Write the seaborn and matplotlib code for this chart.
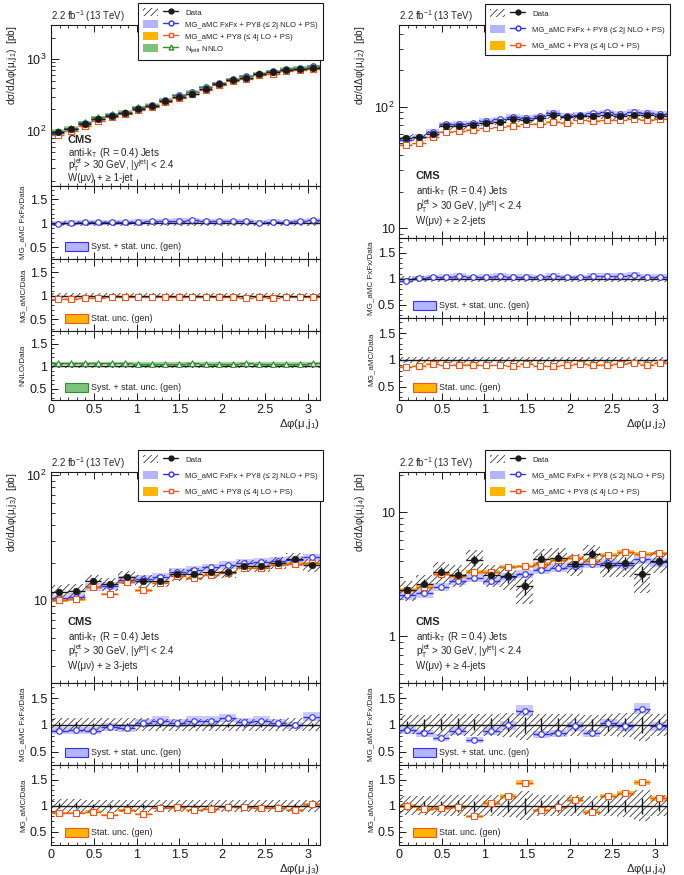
import numpy as np
import matplotlib
matplotlib.use("Agg")
import matplotlib.pyplot as plt
import matplotlib.ticker as mticker
from matplotlib.patches import Patch
from matplotlib.lines import Line2D
from matplotlib.legend_handler import HandlerTuple
import seaborn as sns

# ---------------- values ----------------
# >= 1 jet, 20 bins in dphi(mu, j1)
data_j1 = [95, 105, 125, 145, 161, 175, 204, 222, 260, 298,
           331, 389, 447, 507, 552, 614, 661, 712, 725, 750]
fxfx_ratio_j1 = [0.99, 1.01, 1.02, 1.02, 1.02, 1.02, 1.03, 1.04, 1.04, 1.05,
                 1.06, 1.04, 1.04, 1.04, 1.04, 1.01, 1.03, 1.02, 1.04, 1.06]
mg_ratio_j1 = [0.92, 0.94, 0.95, 0.96, 0.97, 0.97, 0.97, 0.98, 0.98, 0.97,
               0.98, 0.97, 0.97, 0.97, 0.95, 0.97, 0.95, 0.97, 0.97, 0.98]
nnlo_ratio_j1 = [1.06, 1.06, 1.06, 1.06, 1.06, 1.06, 1.05, 1.04, 1.05, 1.05,
                 1.06, 1.05, 1.05, 1.04, 1.06, 1.04, 1.04, 1.04, 1.05, 1.06]
tot_unc_j1, stat_unc_j1 = 0.05, 0.01

# >= 2 jets, 20 bins in dphi(mu, j2)
data_j2 = [55.6, 56, 60, 69, 69, 70.7, 73.5, 75, 79, 78,
           80.7, 85, 82, 83, 84, 85, 83, 85, 85.4, 84]
fxfx_ratio_j2 = [0.96, 1.01, 1.03, 1.04, 1.05, 1.03, 1.04, 1.05, 1.04, 1.04,
                 1.03, 1.05, 1.03, 1.03, 1.05, 1.06, 1.05, 1.07, 1.04, 1.04]
mg_ratio_j2 = [0.87, 0.89, 0.93, 0.90, 0.91, 0.91, 0.90, 0.90, 0.88, 0.92,
               0.89, 0.88, 0.90, 0.93, 0.91, 0.91, 0.93, 0.94, 0.91, 0.94]
tot_unc_j2, stat_unc_j2 = 0.06, 0.015

# >= 3 jets, 16 bins in dphi(mu, j3)
data_j3 = [11.7, 11.9, 14.4, 13.6, 15.5, 14.4, 14.4, 16.2,
           16.3, 17.0, 17.0, 18.9, 18.9, 20.0, 21.4, 19.2]
fxfx_ratio_j3 = [0.89, 0.90, 0.89, 0.96, 0.94, 1.04, 1.08, 1.04,
                 1.08, 1.08, 1.13, 1.06, 1.08, 1.04, 0.99, 1.15]
mg_ratio_j3 = [0.86, 0.86, 0.89, 0.83, 0.91, 0.84, 0.96, 0.97,
               0.92, 0.94, 0.98, 0.97, 0.96, 0.96, 0.92, 1.03]
tot_unc_j3 = [0.13, 0.13, 0.12, 0.12, 0.12, 0.12, 0.11, 0.11,
              0.11, 0.11, 0.11, 0.11, 0.11, 0.11, 0.12, 0.12]
stat_unc_j3 = [0.05, 0.05, 0.04, 0.04, 0.04, 0.04, 0.04, 0.04,
               0.04, 0.04, 0.04, 0.04, 0.04, 0.04, 0.04, 0.04]

# >= 4 jets, 16 bins in dphi(mu, j4)
data_j4 = [2.35, 2.65, 3.29, 3.13, 4.12, 3.13, 3.04, 2.53,
           4.17, 4.25, 3.80, 4.58, 3.77, 3.87, 3.19, 4.07]
fxfx_ratio_j4 = [0.91, 0.84, 0.76, 0.89, 0.72, 0.89, 0.99, 1.26,
                 0.82, 0.84, 0.97, 0.84, 1.03, 0.97, 1.30, 0.97]
mg_ratio_j4 = [1.00, 0.94, 0.96, 0.98, 0.80, 1.05, 1.18, 1.44,
               0.91, 0.97, 1.12, 0.88, 1.19, 1.24, 1.45, 1.14]
tot_unc_j4 = [0.18, 0.18, 0.20, 0.20, 0.20, 0.20, 0.22, 0.28,
              0.20, 0.20, 0.20, 0.18, 0.20, 0.22, 0.30, 0.20]
stat_unc_j4 = [0.08, 0.10, 0.10, 0.12, 0.10, 0.12, 0.12, 0.15,
               0.12, 0.12, 0.12, 0.10, 0.12, 0.12, 0.15, 0.10]

fxfx_band = [0.05, 0.05, 0.07, 0.08]
mg_band = [0.01, 0.012, 0.025, 0.035]
nnlo_band = 0.04

# ---------------- style ----------------
sns.set_theme(style="ticks")
plt.rcParams["font.family"] = ["Liberation Sans", "DejaVu Sans"]
plt.rcParams["mathtext.fontset"] = "custom"
plt.rcParams["mathtext.rm"] = "Liberation Sans"
plt.rcParams["mathtext.it"] = "Liberation Sans:italic"
plt.rcParams["mathtext.bf"] = "Liberation Sans:bold"
plt.rcParams["hatch.linewidth"] = 0.6
plt.rcParams["axes.linewidth"] = 0.8

BLUE = "#3030ff"
BLUE_F = "#b4b4ff"
ORANGE = "#f2541b"
ORANGE_F = "#ffb400"
GREEN = "#2f8f2f"
GREEN_F = "#7cc47c"
HATCH_C = "#3a3a3a"

W, H = 684, 875
fig = plt.figure(figsize=(W / 100, H / 100), dpi=100)


def add_ax(l, t, r, b):
    return fig.add_axes([l / W, 1 - b / H, (r - l) / W, (b - t) / H])


def style_ax(ax):
    ax.set_xlim(0, np.pi)
    ax.xaxis.set_major_locator(mticker.MultipleLocator(0.5))
    ax.xaxis.set_minor_locator(mticker.MultipleLocator(0.1))
    ax.xaxis.set_major_formatter(mticker.FormatStrFormatter("%g"))
    ax.tick_params(which="both", direction="in", top=True, right=False,
                   labelsize=9, pad=3, colors="k")
    ax.tick_params(which="major", length=5, width=0.7)
    ax.tick_params(which="minor", length=2.5, width=0.6)
    for s in ax.spines.values():
        s.set_color("k")
        s.set_linewidth(0.8)
    ax.tick_params(axis="x", labelbottom=False)


def log_fmt(v, pos):
    if abs(v - 1) < 1e-9:
        return "1"
    if abs(v - 10) < 1e-9:
        return "10"
    return "10$^{%d}$" % round(np.log10(v))


def draw_mc(ax, edges, vals, band, line_c, fill_c, marker, alpha=0.8):
    centers = 0.5 * (edges[:-1] + edges[1:])
    bw = edges[1] - edges[0]
    vals = np.asarray(vals)
    ax.bar(centers, 2 * band * vals, bottom=vals * (1 - band), width=bw,
           color=fill_c, alpha=alpha, linewidth=0, zorder=1)
    ax.hlines(vals, edges[:-1], edges[1:], color=line_c, lw=1.0, zorder=3)
    sns.scatterplot(x=centers, y=vals, ax=ax, marker=marker, s=16,
                    facecolor="white", edgecolor=line_c, linewidth=0.8,
                    zorder=5, legend=False)


def draw_data(ax, edges, vals, tot, stat, ratio=False):
    centers = 0.5 * (edges[:-1] + edges[1:])
    bw = edges[1] - edges[0]
    vals = np.asarray(vals, dtype=float)
    tot = np.broadcast_to(np.asarray(tot, dtype=float), vals.shape)
    stat = np.broadcast_to(np.asarray(stat, dtype=float), vals.shape)
    ax.bar(centers, 2 * tot * vals, bottom=vals * (1 - tot), width=bw,
           fill=False, hatch="/////", edgecolor=HATCH_C, linewidth=0, zorder=2)
    ax.vlines(centers, vals * (1 - stat), vals * (1 + stat), color="k",
              lw=1.0, zorder=4)
    if ratio:
        ax.axhline(1.0, color="k", lw=1.0, zorder=4)
    else:
        ax.hlines(vals, edges[:-1], edges[1:], color="k", lw=1.0, zorder=4)
        sns.scatterplot(x=centers, y=vals, ax=ax, marker="o", s=22,
                        color="k", edgecolor="k", linewidth=0.5, zorder=6,
                        legend=False)


def main_text(ax, njet, y0, dy):
    ax.text(0.063, y0, "CMS", transform=ax.transAxes, fontsize=8,
            fontweight="bold", va="center")
    lines = ["anti-k$_{\\rm T}$ (R = 0.4) Jets",
             "p$_{\\rm T}^{\\rm jet}$ > 30 GeV, |y$^{\\rm jet}$| < 2.4",
             "W(μν) + ≥ %s" % njet]
    for i, s in enumerate(lines):
        ax.text(0.063, y0 - dy * (i + 1), s, transform=ax.transAxes,
                fontsize=7.0, va="center")
    ax.text(0.0, 1.005, "2.2 fb$^{-1}$ (13 TeV)", transform=ax.transAxes,
            fontsize=6.9, ha="left", va="bottom")


def make_legend(x_px, y_px, with_nnlo, spacing):
    handles = [
        (Patch(fill=False, hatch="/////", edgecolor=HATCH_C, lw=0),
         Line2D([], [], color="k", marker="o", ms=3.5, lw=1)),
        (Patch(facecolor=BLUE_F, edgecolor="none"),
         Line2D([], [], color=BLUE, marker="o", ms=3.5, mfc="white", lw=1)),
        (Patch(facecolor=ORANGE_F, edgecolor="none"),
         Line2D([], [], color=ORANGE, marker="s", ms=3.5, mfc="white", lw=1)),
    ]
    labels = ["Data", "MG_aMC FxFx + PY8 (≤ 2j NLO + PS)",
              "MG_aMC + PY8 (≤ 4j LO + PS)"]
    if with_nnlo:
        handles.append((Patch(facecolor=GREEN_F, edgecolor="none"),
                        Line2D([], [], color=GREEN, marker="^", ms=3.5,
                               mfc="white", lw=1)))
        labels.append("N$_{\\rm jetti}$ NNLO")
    leg = fig.legend(handles, labels, loc="upper left",
                     bbox_to_anchor=(x_px / W, 1 - y_px / H), fontsize=5.6,
                     frameon=True, fancybox=False, edgecolor="k",
                     framealpha=1, handlelength=4.6, handleheight=1.3,
                     borderpad=0.6, labelspacing=spacing, handletextpad=0.9,
                     borderaxespad=0,
                     handler_map={tuple: HandlerTuple(ndivide=None)})
    leg.get_frame().set_linewidth(0.8)


def ratio_legend(ax, label, fc, ec):
    ax.legend(handles=[Patch(facecolor=fc, edgecolor=ec, lw=0.8)],
              labels=[label], loc="lower left", bbox_to_anchor=(0.03, 0.02),
              frameon=False, fontsize=6.4, handlelength=2.6,
              handleheight=1.2, handletextpad=0.3, borderaxespad=0.3)


def ratio_ax(ax, ylabel, lab_x):
    style_ax(ax)
    ax.set_ylim(0.25, 1.78)
    ax.yaxis.set_major_locator(mticker.FixedLocator([0.5, 1.0, 1.5]))
    ax.yaxis.set_major_formatter(mticker.FixedFormatter(["0.5", "1", "1.5"]))
    ax.yaxis.set_minor_locator(mticker.MultipleLocator(0.1))
    ax.set_ylabel(ylabel, fontsize=5.8, loc="center")
    ax.yaxis.set_label_coords(lab_x, 0.5)


def bottom_x(ax, n):
    ax.tick_params(axis="x", labelbottom=True)
    ax.set_xlabel("Δφ(μ,j$_{%d}$)" % n, fontsize=8.2, loc="right",
                  labelpad=0.5, visible=True)


# ---------------- build the four blocks ----------------
blocks = [
    dict(n=1, data=data_j1, fx=fxfx_ratio_j1, mg=mg_ratio_j1, nn=nnlo_ratio_j1,
         tot=tot_unc_j1, stat=stat_unc_j1, ylim=(17, 3000),
         box=(51, 320), main=(25, 186), ratios=[(186, 259), (259, 331), (331, 400)],
         text=(0.285, 0.079), njet="1-jet", leg=(138, 3), spacing=0.42),
    dict(n=2, data=data_j2, fx=fxfx_ratio_j2, mg=mg_ratio_j2, nn=None,
         tot=tot_unc_j2, stat=stat_unc_j2, ylim=(8.3, 470),
         box=(399, 667), main=(25, 238), ratios=[(238, 318), (318, 400)],
         text=(0.29, 0.07), njet="2-jets", leg=(485, 4), spacing=0.95),
    dict(n=3, data=data_j3, fx=fxfx_ratio_j3, mg=mg_ratio_j3, nn=None,
         tot=tot_unc_j3, stat=stat_unc_j3, ylim=(2.2, 106),
         box=(51, 320), main=(472, 683), ratios=[(683, 765), (765, 845)],
         text=(0.29, 0.07), njet="3-jets", leg=(138, 450), spacing=0.95),
    dict(n=4, data=data_j4, fx=fxfx_ratio_j4, mg=mg_ratio_j4, nn=None,
         tot=tot_unc_j4, stat=stat_unc_j4, ylim=(0.42, 21),
         box=(399, 667), main=(472, 683), ratios=[(683, 765), (765, 845)],
         text=(0.29, 0.07), njet="4-jets", leg=(485, 450), spacing=0.95),
]

for i, b in enumerate(blocks):
    nb = len(b["data"])
    edges = np.linspace(0, np.pi, nb + 1)
    data = np.asarray(b["data"], dtype=float)
    fx = np.asarray(b["fx"])
    mg = np.asarray(b["mg"])
    l, r = b["box"]

    ax = add_ax(l, b["main"][0], r, b["main"][1])
    style_ax(ax)
    ax.set_yscale("log")
    ax.set_ylim(*b["ylim"])
    ax.yaxis.set_major_locator(mticker.LogLocator(base=10, numticks=10))
    ax.yaxis.set_major_formatter(mticker.FuncFormatter(log_fmt))
    ax.yaxis.set_minor_locator(mticker.LogLocator(base=10, subs=np.arange(2, 10), numticks=20))
    ax.yaxis.set_minor_formatter(mticker.NullFormatter())
    ax.tick_params(axis="y", which="minor", length=3)
    ax.tick_params(axis="y", which="major", length=6)

    draw_mc(ax, edges, data * fx, fxfx_band[i], BLUE, BLUE_F, "o", alpha=0.7)
    draw_mc(ax, edges, data * mg, mg_band[i], ORANGE, ORANGE_F, "s")
    if b["nn"] is not None:
        draw_mc(ax, edges, data * np.asarray(b["nn"]), nnlo_band, GREEN,
                GREEN_F, "^", alpha=0.7)
    draw_data(ax, edges, data, b["tot"], b["stat"])
    ax.set_ylabel("dσ/dΔφ(μ,j$_{%d}$)  [pb]" % b["n"], fontsize=7.3, loc="top")
    ax.yaxis.set_label_coords(-0.12, 1.0)
    main_text(ax, b["njet"], b["text"][0], b["text"][1])
    make_legend(b["leg"][0], b["leg"][1], b["nn"] is not None, b["spacing"])

    # ratio panels
    specs = [("MG_aMC FxFx/Data", fx, fxfx_band[i], BLUE, BLUE_F, "o",
              "Syst. + stat. unc. (gen)", 0.7),
             ("MG_aMC/Data", mg, mg_band[i], ORANGE, ORANGE_F, "s",
              "Stat. unc. (gen)", 0.8)]
    if b["nn"] is not None:
        specs.append(("NNLO/Data", np.asarray(b["nn"]), nnlo_band, GREEN,
                      GREEN_F, "^", "Syst. + stat. unc. (gen)", 0.7))
    for k, (t, b2) in enumerate(b["ratios"]):
        rax = add_ax(l, t, r, b2)
        ylab, rv, band, lc, fc, mk, leglab, al = specs[k]
        ratio_ax(rax, ylab, -0.092)
        draw_data(rax, edges, np.ones(nb), b["tot"], b["stat"], ratio=True)
        draw_mc(rax, edges, rv, band, lc, fc, mk, alpha=al)
        ratio_legend(rax, leglab, fc, lc)
        if k == len(b["ratios"]) - 1:
            bottom_x(rax, b["n"])

fig.savefig("out.png", dpi=100)
